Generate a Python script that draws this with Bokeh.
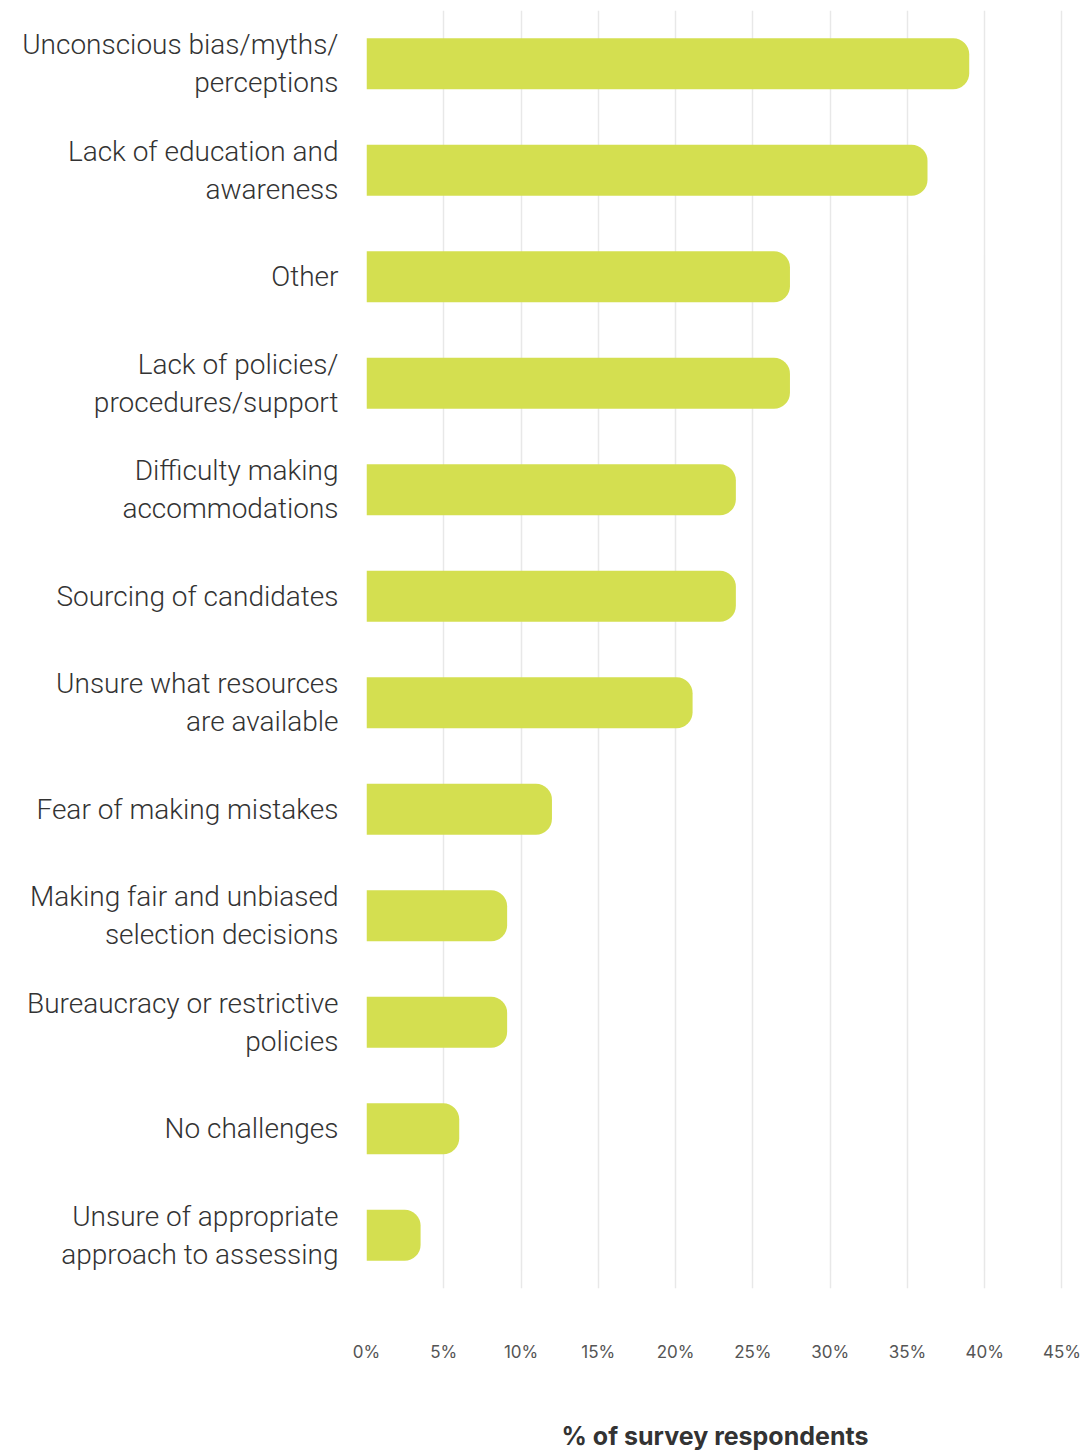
from bokeh.plotting import figure
from bokeh.models import FactorRange, Range1d, FixedTicker
from bokeh.embed import file_html
from bokeh.resources import INLINE

categories = [
    "Unconscious bias/myths/\nperceptions",
    "Lack of education and\nawareness",
    "Other",
    "Lack of policies/\nprocedures/support",
    "Difficulty making\naccommodations",
    "Sourcing of candidates",
    "Unsure what resources\nare available",
    "Fear of making mistakes",
    "Making fair and unbiased\nselection decisions",
    "Bureaucracy or restrictive\npolicies",
    "No challenges",
    "Unsure of appropriate\napproach to assessing",
]
values = [39.0, 36.3, 27.4, 27.4, 23.9, 23.9, 21.1, 12.0, 9.1, 9.1, 6.0, 3.5]
x_ticks = [0, 5, 10, 15, 20, 25, 30, 35, 40, 45]

LABEL_FONT = "Roboto Light, Roboto, Inter"

p = figure(
    width=1087, height=1453,
    y_range=FactorRange(*reversed(categories)),
    x_range=Range1d(0, 45.1),
    output_backend="svg", toolbar_location=None,
    min_border_left=366, min_border_right=24, min_border_top=10, min_border_bottom=10,
)
p.outline_line_color = None
p.background_fill_color = "white"

p.hbar(y=categories, right=values, left=0, height=0.48,
       fill_color="#d4df50", line_color=None,
       border_radius=(0, 16, 16, 0))

p.xaxis.ticker = FixedTicker(ticks=x_ticks)
p.xaxis.major_label_overrides = {t: f"{t}%" for t in x_ticks}
p.xaxis.axis_line_color = None
p.xaxis.major_tick_line_color = None
p.xaxis.minor_tick_line_color = None
p.xaxis.major_label_standoff = 47
p.xaxis.major_label_text_font = "Inter"
p.xaxis.major_label_text_font_size = "17px"
p.xaxis.major_label_text_color = "#555555"
p.xaxis.axis_label = "% of survey respondents"
p.xaxis.axis_label_text_font = "Inter"
p.xaxis.axis_label_text_font_style = "bold"
p.xaxis.axis_label_text_font_size = "25px"
p.xaxis.axis_label_text_color = "#333333"
p.xaxis.axis_label_standoff = 56

p.yaxis.axis_line_color = None
p.yaxis.major_tick_line_color = None
p.yaxis.minor_tick_line_color = None
p.yaxis.major_label_standoff = 22
p.yaxis.major_label_text_font = LABEL_FONT
p.yaxis.major_label_text_font_size = "28px"
p.yaxis.major_label_text_color = "#333333"
p.yaxis.major_label_text_line_height = 1.15

p.xgrid.grid_line_color = "#e8e8e8"
p.xgrid.grid_line_width = 1.5
p.ygrid.grid_line_color = None

open("out.html", "w").write(file_html(p, INLINE))
